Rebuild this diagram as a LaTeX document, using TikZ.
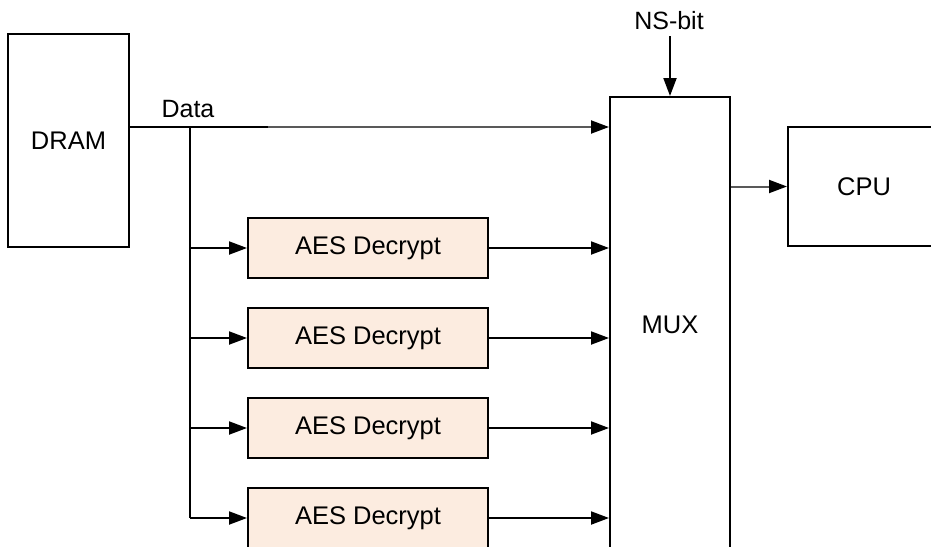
\documentclass[tikz,border=0pt]{standalone}
\usepackage{fontspec}
\setmainfont{Liberation Sans}
\usetikzlibrary{arrows.meta}
\definecolor{aesfill}{RGB}{252,236,224}
\tikzset{
  block/.style={draw=black, line width=2pt, rectangle, inner sep=0pt, font=\fontsize{25.5}{30}\selectfont},
  aesbox/.style={block, fill=aesfill, minimum width=240pt, minimum height=60pt},
  wire/.style={line width=2pt, -{Triangle[length=18pt,width=13pt,color=black]}},
  plain/.style={line width=2pt},
  lbl/.style={font=\fontsize{25}{30}\selectfont, inner sep=0pt}
}
\begin{document}
\begin{tikzpicture}[x=1pt,y=-1pt]
\useasboundingbox (0,0) rectangle (931,546);
\clip (0,0) rectangle (931,546);
% memory, multiplexer and processor
\node[block, minimum width=121pt, minimum height=213pt] (dram) at (68.5,140.5) {DRAM};
\node[block, minimum width=120pt, minimum height=456pt] (mux) at (670,325) {MUX};
\node[block, minimum width=152pt, minimum height=119pt] (cpu) at (864,186.5) {CPU};
% decryption engines
\node[aesbox] (aes1) at (368,248) {AES Decrypt};
\node[aesbox] (aes2) at (368,338) {AES Decrypt};
\node[aesbox] (aes3) at (368,428) {AES Decrypt};
\node[aesbox] (aes4) at (368,518) {AES Decrypt};
% labels
\node[lbl] (data) at (188,109) {Data};
\node[lbl] (ns) at (669,21) {NS-bit};
% data bus and its branch points
\coordinate (split) at (190,127);
\coordinate (fade) at (268,127);
\coordinate (b1) at (190,248);
\coordinate (b2) at (190,338);
\coordinate (b3) at (190,428);
\coordinate (b4) at (190,518);
\draw[plain] (dram.east |- split) -- (fade);
\draw[wire, black!65] (fade) -- (mux.west |- fade);
\draw[plain] (split) -- (b4);
\foreach \i in {1,2,3,4} {
  \draw[wire] (b\i) -- (aes\i.west);
  \draw[wire] (aes\i.east) -- (mux.west |- aes\i.east);
}
% select line and output
\coordinate (nsend) at (mux.north |- 0,36);
\draw[wire] (nsend) -- (mux.north);
\draw[wire, black!65] (mux.east |- cpu.west) -- (cpu.west);
\end{tikzpicture}
\end{document}
